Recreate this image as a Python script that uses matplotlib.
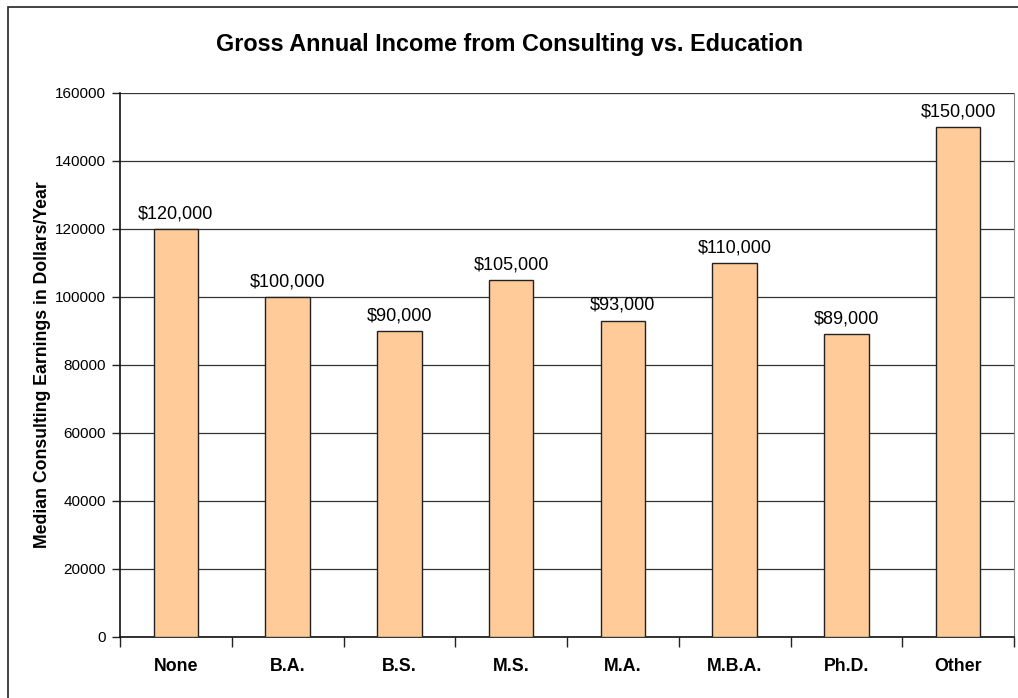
import numpy as np
import matplotlib
matplotlib.use("Agg")
import matplotlib.pyplot as plt
from matplotlib.patches import Rectangle
from matplotlib.ticker import MultipleLocator, FixedLocator

plt.rcParams['font.family'] = ['Liberation Sans', 'DejaVu Sans']

degrees = ["None", "B.A.", "B.S.", "M.S.", "M.A.", "M.B.A.", "Ph.D.", "Other"]
earnings = [120000, 100000, 90000, 105000, 93000, 110000, 89000, 150000]

W, H = 1018, 698
fig = plt.figure(figsize=(W / 100, H / 100), dpi=100)
fig.patch.set_facecolor('white')

# chart frame (runs off the right and bottom edge)
fig.add_artist(Rectangle((7.5 / W, -0.05), 1.1, 1 - 6.5 / H + 0.05,
                         transform=fig.transFigure, fill=False,
                         edgecolor='#222222', linewidth=1.2))

ax = fig.add_axes([120 / W, 1 - 637 / H, (1014 - 120) / W, (637 - 93) / H])
x = np.arange(len(degrees))
ax.bar(x, earnings, width=0.40, color='#FFCC99', edgecolor='#222222',
       linewidth=1.0, zorder=3)

for xi, v in zip(x, earnings):
    ax.annotate(f"${v:,}", (xi, v), xytext=(0, 5), textcoords='offset points',
                ha='center', va='bottom', fontsize=13, color='black')

ax.set_xlim(-0.5, len(degrees) - 0.5)
ax.set_ylim(0, 160000)
ax.yaxis.set_major_locator(MultipleLocator(20000))
ax.yaxis.grid(True, color='#333333', linewidth=0.9, zorder=0)
ax.set_axisbelow(True)

ax.set_xticks(x)
ax.set_xticklabels(degrees, fontsize=12.8, fontweight='bold')
ax.tick_params(axis='x', length=0, pad=15)
ax.xaxis.set_minor_locator(FixedLocator(np.arange(-0.5, len(degrees), 1.0)))
ax.tick_params(axis='x', which='minor', length=7, width=1.0, direction='out',
               color='#222222')
ax.tick_params(axis='y', length=6, width=1.0, direction='out', labelsize=11,
               pad=4, color='#222222')

ax.spines['top'].set_visible(False)
ax.spines['right'].set_color('#888888')
ax.spines['left'].set_color('#111111')
ax.spines['bottom'].set_color('#111111')
ax.spines['left'].set_linewidth(1.2)
ax.spines['bottom'].set_linewidth(1.2)

ax.set_ylabel("Median Consulting Earnings in Dollars/Year", fontsize=12.7,
              fontweight='bold', labelpad=3)
fig.text(510 / W, 1 - 45 / H, "Gross Annual Income from Consulting vs. Education",
         ha='center', va='center', fontsize=16.8, fontweight='bold')

fig.savefig("out.png", dpi=100, facecolor='white')
